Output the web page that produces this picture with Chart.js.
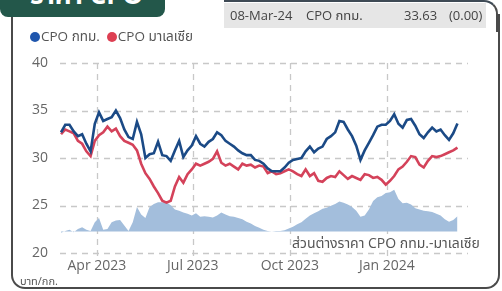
<!DOCTYPE html>
<html>
<head>
<meta charset="utf-8">
<script src="https://cdn.jsdelivr.net/npm/chart.js@4.4.1/dist/chart.umd.min.js"></script>
<style>
  html, body { margin:0; padding:0; background:#fff; }
  body { width:502px; height:291px; position:relative; overflow:hidden;
         font-family: "Open Sans", "Noto Sans", "Noto Sans Thai", "DejaVu Sans", sans-serif; }
  #c { position:absolute; left:0; top:0; }
  .frame { position:absolute; left:11px; top:14px; width:485px; height:273px;
           border-left:2px solid #4a4a4a; border-right:2px solid #4a4a4a; border-bottom:2px solid #4a4a4a;
           border-radius:0 0 14px 14px; box-sizing:content-box; }
  .topline { position:absolute; left:224px; top:0px; width:272px; height:30px;
             border-top:2px solid #3e4a55; border-right:2px solid #4a4a4a; border-top-right-radius:14px; }
  .tab { position:absolute; left:0; top:-10px; width:165px; height:27px; background:#23574a;
         border-radius:0 0 8px 8px; overflow:hidden; }
  .tab span { position:absolute; left:30px; top:-9px; color:#fff; font-weight:bold; font-size:26px; line-height:26px; white-space:nowrap; }
  .info { position:absolute; left:224px; top:3px; width:262px; height:25px; background:#e6e6e6;
          font-size:13px; color:#444; line-height:25px; }
  .info span { position:absolute; top:0; white-space:nowrap; }
  .legend { position:absolute; left:30px; top:28px; font-size:13.5px; color:#555; line-height:16px; white-space:nowrap; }
  .dot { display:inline-block; width:10px; height:10px; border-radius:50%; vertical-align:-1px; margin-right:1px; }
  .note { position:absolute; left:292px; top:233px; font-size:14px; color:#555; white-space:nowrap; }
  .unit { position:absolute; left:20px; top:273px; font-size:11px; color:#555; white-space:nowrap; }
</style>
</head>
<body>
<canvas id="c" width="502" height="291"></canvas>
<div class="frame"></div>
<div class="topline"></div>
<div class="tab"><span>ราคา CPO</span></div>
<div class="info">
  <span style="left:6px">08-Mar-24</span>
  <span style="left:82px">CPO กทม.</span>
  <span style="left:180px">33.63</span>
  <span style="left:225px">(0.00)</span>
</div>
<div class="legend">
  <span class="dot" style="background:#1f56ad"></span>CPO กทม.&nbsp;&nbsp;<span class="dot" style="background:#dd3f52"></span>CPO มาเลเซีย
</div>
<div class="note">ส่วนต่างราคา CPO กทม.-มาเลเซีย</div>
<div class="unit">บาท/กก.</div>
<script>
// ---- data (sampled every 4 days from 2023-02-26 to 2024-03-08) ----
const firstDate = '2023-02-26';
const stepDays = 4;

const cpoBangkok = [
  32.7, 33.5, 33.5, 32.8, 32.3, 32.5, 31.5, 30.7, 33.6, 34.8,
  33.9, 34.1, 34.3, 35.0, 34.2, 33.0, 32.2, 32.0, 33.8, 32.5,
  30.0, 30.4, 30.5, 31.7, 30.3, 30.2, 29.7, 30.8, 31.8, 30.1,
  30.8, 31.3, 32.3, 31.5, 31.2, 31.7, 32.0, 32.7, 32.4, 31.8,
  31.5, 31.2, 30.8, 30.5, 30.3, 30.3, 29.8, 29.7, 29.4, 28.9,
  28.6, 28.6, 28.6, 29.0, 29.5, 29.8, 29.9, 30.0, 30.7, 31.2,
  30.6, 31.0, 31.2, 32.0, 32.3, 32.7, 33.9, 33.8, 33.0, 32.3,
  31.3, 29.8, 30.8, 31.6, 32.4, 33.3, 33.5, 33.5, 33.9, 34.6,
  33.6, 33.2, 34.0, 34.1, 33.4, 32.5, 32.1, 32.7, 33.2, 32.8,
  33.0, 32.4, 31.9, 32.6, 33.63
];

const cpoMalaysia = [
  32.5, 33.0, 32.8, 32.6, 31.8, 31.5, 30.7, 30.2, 31.8, 32.4,
  32.7, 33.3, 32.8, 33.1, 32.3, 31.8, 31.6, 31.4, 30.8, 29.4,
  28.4, 27.8, 27.0, 26.3, 25.5, 25.3, 25.5, 27.0, 28.0, 27.4,
  28.3, 28.8, 29.4, 29.2, 29.4, 29.6, 29.9, 30.7, 29.5, 29.2,
  29.4, 29.1, 28.8, 29.4, 29.2, 29.3, 29.0, 29.2, 29.1, 28.4,
  28.6, 28.3, 28.4, 28.6, 28.8, 28.6, 28.3, 28.1, 28.8, 28.1,
  28.4, 27.6, 27.5, 27.9, 28.1, 28.0, 28.6, 28.2, 27.8, 28.1,
  27.9, 27.7, 28.3, 28.2, 27.9, 28.0, 27.7, 27.2, 27.6, 28.1,
  28.8, 29.1, 29.6, 30.2, 30.1, 29.3, 29.0, 29.7, 30.2, 30.1,
  30.2, 30.4, 30.6, 30.8, 31.1
];

const priceSpread = [
  -0.2, 0.1, 0.3, -0.1, 0.4, 0.7, 0.3, 0.1, 1.5, 2.2,
  0.3, 0.4, 1.5, 1.8, 1.9, 1.0, 0.1, 1.5, 4.0, 2.8,
  2.2, 4.0, 4.5, 4.8, 4.8, 4.8, 4.3, 3.6, 3.4, 3.1,
  2.9, 2.6, 3.0, 2.4, 2.5, 2.4, 2.3, 2.6, 3.1, 2.8,
  2.5, 2.4, 2.2, 2.0, 1.6, 1.3, 0.9, 0.6, 0.3, 0.1,
  0.0, 0.1, 0.1, 0.2, 0.5, 0.8, 1.2, 1.5, 2.1, 2.6,
  3.0, 3.3, 3.7, 3.9, 4.2, 4.5, 4.9, 4.7, 4.4, 4.0,
  3.4, 2.4, 2.6, 3.6, 5.0, 5.6, 5.8, 6.3, 6.4, 6.8,
  5.3, 4.6, 4.7, 4.4, 3.8, 3.6, 3.4, 3.3, 3.2, 2.9,
  2.6, 2.0, 1.6, 1.9, 2.5
];

const tickDates  = ['2023-04-01', '2023-07-01', '2023-10-01', '2024-01-01'];
const tickLabels = ['Apr 2023', 'Jul 2023', 'Oct 2023', 'Jan 2024'];
const yTicks = [20, 25, 30, 35, 40];
const xRange = ['2023-02-25', '2024-03-18'];

// ---- helpers ----
const DAY = 86400000;
function toDay(s) { const [y,m,d] = s.split('-').map(Number); return Date.UTC(y, m-1, d) / DAY; }
const d0 = toDay(firstDate);
const xs = cpoBangkok.map((_, i) => d0 + i * stepDays);
const pts = arr => arr.map((v, i) => ({ x: xs[i], y: v }));
const tickDays = tickDates.map(toDay);

const gridCol = '#c8c8c8';
const tickFont = { family: '"Open Sans", "Noto Sans", sans-serif', size: 14 };

// dashed grid drawn from the chart's own scales
const dashedGrid = {
  id: 'dashedGrid',
  beforeDatasetsDraw(chart) {
    const { ctx, chartArea: a, scales: { x, y } } = chart;
    ctx.save();
    ctx.strokeStyle = gridCol;
    ctx.lineWidth = 1.3;
    ctx.setLineDash([6, 5]);
    y.ticks.forEach(t => {
      const py = Math.round(y.getPixelForValue(t.value)) + 0.5;
      ctx.beginPath(); ctx.moveTo(a.left, py); ctx.lineTo(a.right, py); ctx.stroke();
    });
    x.ticks.forEach(t => {
      const px = Math.round(x.getPixelForValue(t.value)) + 0.5;
      ctx.beginPath(); ctx.moveTo(px, a.top); ctx.lineTo(px, a.bottom + 4); ctx.stroke();
    });
    ctx.restore();
  }
};

new Chart(document.getElementById('c'), {
  type: 'line',
  data: {
    datasets: [
      { label: 'CPO กทม.', data: pts(cpoBangkok), borderColor: '#1b4a86', borderWidth: 2.6,
        pointRadius: 0, tension: 0, yAxisID: 'y', fill: false },
      { label: 'CPO มาเลเซีย', data: pts(cpoMalaysia), borderColor: '#d4425a', borderWidth: 2.6,
        pointRadius: 0, tension: 0, yAxisID: 'y', fill: false },
      { label: 'ส่วนต่าง', data: pts(priceSpread), borderColor: 'rgba(0,0,0,0)', borderWidth: 0,
        backgroundColor: '#a3bedc', pointRadius: 0, tension: 0, yAxisID: 'y2', fill: 'origin' }
    ]
  },
  options: {
    responsive: false,
    animation: false,
    devicePixelRatio: 1,
    layout: { padding: { top: 63, right: 34, bottom: 8, left: 0 } },
    plugins: { legend: { display: false }, tooltip: { enabled: false } },
    scales: {
      x: {
        type: 'linear',
        min: toDay(xRange[0]), max: toDay(xRange[1]),
        afterBuildTicks: s => { s.ticks = tickDays.map(v => ({ value: v })); },
        afterFit: s => { s.height = 30; },
        ticks: { callback: v => tickLabels[tickDays.indexOf(v)] ?? '', color: '#666', font: tickFont,
                 padding: 5, maxRotation: 0, autoSkip: false },
        grid: { display: false, drawTicks: false },
        border: { display: false }
      },
      y: {
        min: 20, max: 40,
        afterBuildTicks: s => { s.ticks = yTicks.map(v => ({ value: v })); },
        afterFit: s => { s.width = 60; },
        ticks: { color: '#666', font: tickFont, padding: 12 },
        grid: { display: false, drawTicks: false },
        border: { display: false }
      },
      y2: { display: false, min: -3.5, max: 27.5 }
    }
  },
  plugins: [dashedGrid]
});
</script>
</body>
</html>
